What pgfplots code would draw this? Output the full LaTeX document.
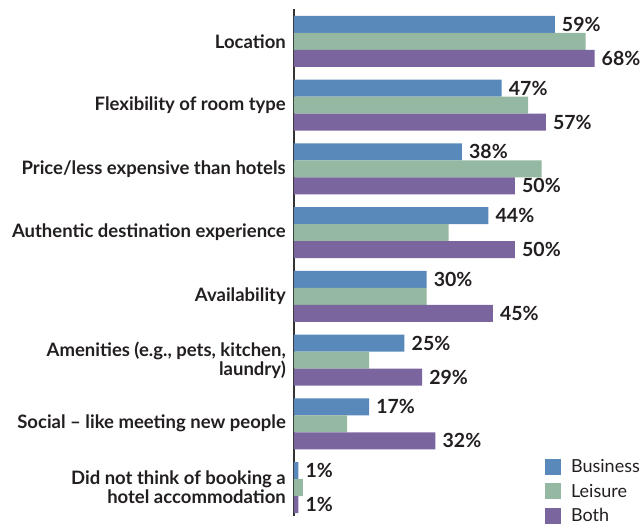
\documentclass[border=0pt]{standalone}
\usepackage{pgfplots}
\pgfplotsset{compat=1.18}
\usepackage{fontspec}
\setmainfont{Lato}
\definecolor{bizcol}{HTML}{5889BA}
\definecolor{leicol}{HTML}{95B8A2}
\definecolor{bothcol}{HTML}{7B659F}
\definecolor{axcol}{HTML}{333333}
\definecolor{txtcol}{HTML}{231F20}
\begin{document}
\begin{tikzpicture}
\begin{axis}[
  name=ax,
  scale only axis,
  width=309.4pt, height=507pt,
  xbar, bar width=17pt,
  xmin=0, xmax=70,
  ymin=-0.447, ymax=7.51,
  axis x line=none,
  axis y line*=left,
  y axis line style={draw=axcol, line width=1.4pt},
  ytick={0,1,2,3,4,5,6,7},
  yticklabels={{Did not think of booking a\\hotel accommodation},{Social -- like meeting new people},{Amenities (e.g., pets, kitchen,\\laundry)},{Availability},{Authentic destination experience},{Price/less expensive than hotels},{Flexibility of room type},{Location}},
  major tick length=0pt,
  yticklabel style={align=right, font=\bfseries\fontsize{18.5}{19}\selectfont, text=txtcol, inner xsep=0pt, xshift=-8pt},
  point meta=x,
  /pgf/number format/assume math mode=true,
  every node near coord/.append style={font=\bfseries\fontsize{19.5}{19}\selectfont, text=txtcol, anchor=west, inner xsep=0pt, xshift=7pt},
  legend style={draw=none, fill=none, at={(rel axis cs:0.811,0.116)}, anchor=north west, inner sep=0pt, font=\fontsize{18}{18}\selectfont, text=txtcol, row sep=6pt, /tikz/every odd column/.append style={column sep=8pt}},
  legend cell align=left,
  legend image code/.code={\fill[#1] (0pt,-8pt) rectangle (16pt,8pt);},
  clip=false,
]
\addplot[fill=bizcol, draw=none, bar shift=17pt, nodes near coords={\pgfmathprintnumber{\pgfplotspointmeta}\%}] coordinates {
(59,7) (47,6) (38,5) (44,4) (30,3) (25,2) (17,1) (1,0)};
\addplot[fill=leicol, draw=none, bar shift=0pt] coordinates {
(66,7) (53,6) (56,5) (35,4) (30,3) (17,2) (12,1) (2,0)};
\addplot[fill=bothcol, draw=none, bar shift=-17pt, nodes near coords={\pgfmathprintnumber{\pgfplotspointmeta}\%}] coordinates {
(68,7) (57,6) (50,5) (50,4) (45,3) (29,2) (32,1) (1,0)};
\legend{Business, Leisure, Both}
\end{axis}
\pgfresetboundingbox
\path (ax.south west) ++(-294pt,-10pt) rectangle ++(641pt,526pt);
\end{tikzpicture}
\end{document}
